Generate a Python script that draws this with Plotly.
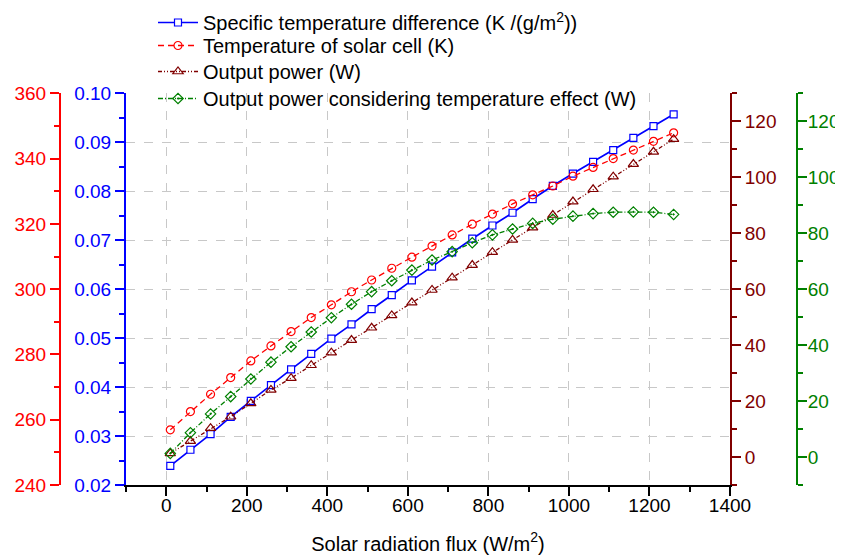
import plotly.graph_objects as go

# solar radiation flux (W/m2)
flux = [10 + 50 * i for i in range(26)]

spec_temp_diff = [0.0239, 0.0272, 0.0304, 0.0339, 0.0372, 0.0404, 0.0436, 0.0468, 0.0499,
                  0.0528, 0.0559, 0.0588, 0.0618, 0.0646, 0.0675, 0.0703, 0.0730,
                  0.0756, 0.0784, 0.0811, 0.0836, 0.0860, 0.0884, 0.0909, 0.0933, 0.0957]
cell_temp = [256.9, 262.5, 267.8, 272.9, 278.0, 282.6, 287.0, 291.3, 295.2,
             299.2, 302.8, 306.4, 309.8, 313.2, 316.6, 319.9, 323.0,
             326.1, 328.9, 331.6, 334.6, 337.3, 340.0, 342.6, 345.3, 347.9]
out_power = [1.3, 5.7, 10.3, 14.4, 19.2, 24.0, 28.2, 32.8, 37.3,
             41.8, 46.2, 50.6, 55.2, 59.7, 64.1, 68.6, 73.2,
             77.6, 82.0, 86.5, 91.3, 95.7, 100.2, 104.7, 109.1, 113.6]
out_power_temp = [1.3, 8.7, 15.4, 21.6, 27.9, 33.9, 39.4, 44.7, 49.8,
                  54.6, 59.1, 63.0, 66.8, 70.4, 73.4, 76.6, 79.4,
                  81.5, 83.5, 85.0, 86.1, 87.0, 87.5, 87.6, 87.5, 86.7]

BLUE = "#0000FF"
RED = "#FF0000"
WINE = "#800000"
GREEN = "#008000"
FONT = "Arial, Liberation Sans, sans-serif"

# page body has an 8px margin, so the figure is 835x549 placed at (8, 8)
W, H = 835, 549

fig = go.Figure()
fig.add_trace(go.Scatter(x=flux, y=spec_temp_diff, name="Specific temperature difference (K /(g/m<sup>2</sup>))",
                         mode="lines+markers", yaxis="y", legend="legend",
                         line=dict(color=BLUE, width=1.7),
                         marker=dict(symbol="square", size=7, color="white", line=dict(color=BLUE, width=1.2))))
fig.add_trace(go.Scatter(x=flux, y=cell_temp, name="Temperature of solar cell (K)",
                         mode="lines+markers", yaxis="y2", legend="legend2",
                         line=dict(color=RED, width=1.3, dash="6px,4px"),
                         marker=dict(symbol="circle-open", size=8, color=RED, line=dict(width=1.2))))
fig.add_trace(go.Scatter(x=flux, y=out_power, name="Output power (W)",
                         mode="lines+markers", yaxis="y3", legend="legend3",
                         line=dict(color=WINE, width=1.3, dash="4px,2px,1px,2px,1px,2px"),
                         marker=dict(symbol="triangle-up-open", size=9, color=WINE, line=dict(width=1.2))))
fig.add_trace(go.Scatter(x=flux, y=out_power_temp, name="Output power considering temperature effect (W)",
                         mode="lines+markers", yaxis="y4", legend="legend4",
                         line=dict(color=GREEN, width=1.3, dash="5px,2px,1px,2px"),
                         marker=dict(symbol="diamond-open-dot", size=8, color=GREEN, line=dict(width=1.2))))

def yax(color, rng, dtick, minor, **kw):
    d = dict(range=rng, dtick=dtick, showline=True, linecolor=color, linewidth=2,
             ticks="outside", ticklen=9, tickwidth=1.5, tickcolor=color,
             tickfont=dict(color=color, size=19, family=FONT),
             minor=dict(ticks="outside", ticklen=5, tickwidth=1.5, tickcolor=color, dtick=minor, showgrid=False),
             showgrid=False, zeroline=False, automargin=False)
    d.update(kw)
    return d

def leg(top):
    return dict(x=145 / W, y=1 - top / H, xanchor="left", yanchor="top", bgcolor="rgba(0,0,0,0)",
                font=dict(size=20), itemwidth=40)

fig.update_layout(
    width=W, height=H,
    margin=dict(l=0, r=0, t=0, b=0, autoexpand=False),
    plot_bgcolor="white", paper_bgcolor="white",
    font=dict(family=FONT, size=19, color="black"),
    xaxis=dict(domain=[118 / W, 722 / W], range=[-100, 1400], dtick=200, tick0=0,
               showline=True, linecolor="black", linewidth=2,
               ticks="outside", ticklen=9, tickwidth=1.5, tickcolor="black",
               minor=dict(ticks="outside", ticklen=5, tickwidth=1.5, tickcolor="black", dtick=100, showgrid=False),
               showgrid=True, gridcolor="#c8c8c8", gridwidth=1, griddash="dash", zeroline=False,
               tickfont=dict(size=19), automargin=False, ticklabelstandoff=-7,
               title=dict(text="Solar radiation flux (W/m<sup>2</sup>)", font=dict(size=20), standoff=22)),
    yaxis=yax(BLUE, [0.02, 0.10], 0.01, 0.005, domain=[1 - 477 / H, 1 - 85.3 / H], anchor="x", side="left",
              tickformat=".2f", showgrid=True, gridcolor="#c8c8c8", gridwidth=1, griddash="dash"),
    yaxis2=yax(RED, [240, 360], 20, 10, overlaying="y", anchor="free", position=52 / W, side="left"),
    yaxis3=yax(WINE, [-10, 130], 20, 10, overlaying="y", anchor="x", side="right", tick0=0),
    yaxis4=yax(GREEN, [-10, 130], 20, 10, overlaying="y", anchor="free", position=789 / W, side="right",
               tick0=0, ticklabelstandoff=-3),
    legend=leg(-5),
    legend2=leg(18),
    legend3=leg(44),
    legend4=leg(71),
    showlegend=True,
)

fig.write_html("out.html")
